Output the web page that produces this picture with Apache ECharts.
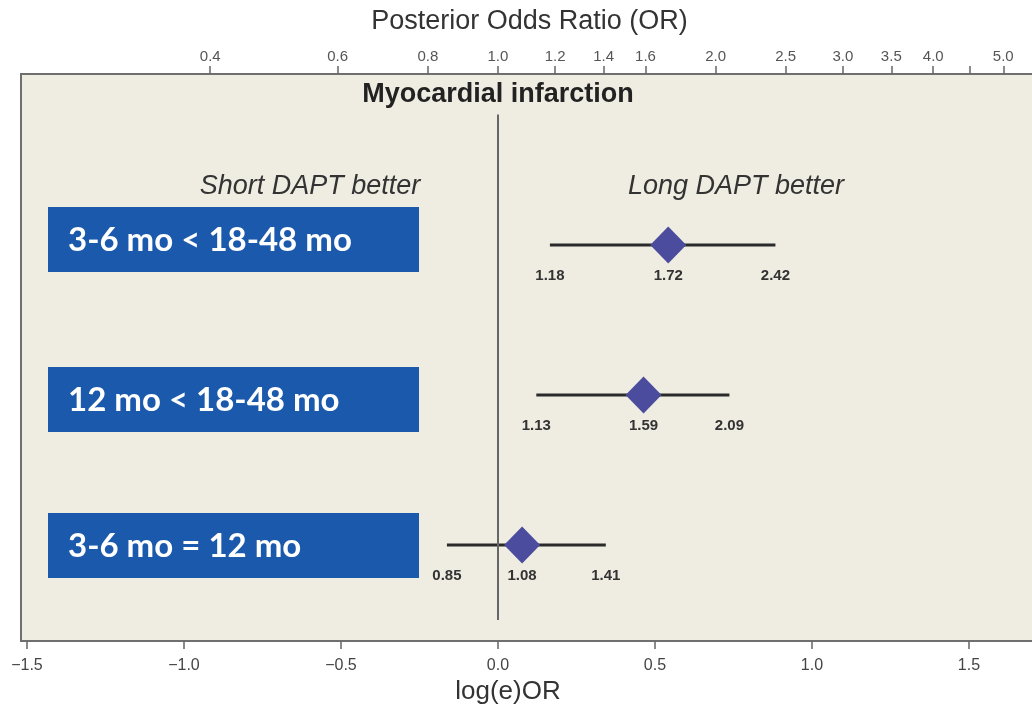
<!DOCTYPE html>
<html>
<head>
<meta charset="utf-8">
<script src="https://cdn.jsdelivr.net/npm/echarts@6/dist/echarts.min.js"></script>
<style>
  html, body { margin: 0; padding: 0; background: #fff; }
  #main { width: 1032px; height: 711px; }
</style>
</head>
<body>
<div id="main"></div>
<script>
// comparisons, top row first
const comparisons = ['3-6 mo < 18-48 mo', '12 mo < 18-48 mo', '3-6 mo = 12 mo'];
const rows = [3, 2, 1];
const orLow = [1.18, 1.13, 0.85];
const orMid = [1.72, 1.59, 1.08];
const orHigh = [2.42, 2.09, 1.41];

// top axis (odds ratio) ticks
const orTicks = [0.4, 0.6, 0.8, 1.0, 1.2, 1.4, 1.6, 2.0, 2.5, 3.0, 3.5, 4.0, 4.5, 5.0];
const orTickLabels = [0.4, 0.6, 0.8, 1.0, 1.2, 1.4, 1.6, 2.0, 2.5, 3.0, 3.5, 4.0, 5.0];
// bottom axis (log OR) ticks
const logTicks = [-1.5, -1.0, -0.5, 0, 0.5, 1.0, 1.5];

const ln = Math.log;
const font = 'Liberation Sans';

var myChart = echarts.init(document.getElementById('main'));

const ciData = rows.map((r, i) => [ln(orLow[i]), ln(orHigh[i]), r, ln(orMid[i])]);
const midData = rows.map((r, i) => [ln(orMid[i]), r]);

var option = {
  animation: false,
  backgroundColor: '#fff',
  grid: {
    // plot runs past the right edge of the picture, as in the original
    left: 21, width: 1017, top: 74, bottom: 70,
    outerBoundsMode: 'none',
    containLabel: false,
    show: true,
    backgroundColor: '#EFECE1',
    borderColor: '#6f6f6f',
    borderWidth: 2
  },
  xAxis: [{
    type: 'value',
    position: 'bottom',
    min: -1.519, max: 1.72,
    splitLine: { show: false },
    axisLine: { show: false },
    axisTick: { show: true, length: 8, lineStyle: { color: '#666', width: 1.5 },
      customValues: logTicks },
    axisLabel: {
      customValues: logTicks,
      color: '#444', fontFamily: font, fontSize: 16, margin: 17,
      formatter: v => v.toFixed(1).replace('-', '\u2212')
    }
  }, {
    type: 'value',
    position: 'top',
    min: -1.519, max: 1.72,
    splitLine: { show: false },
    axisLine: { show: false },
    axisTick: { show: true, length: 8, lineStyle: { color: '#666', width: 1.5 },
      customValues: orTicks.map(ln) },
    axisLabel: {
      customValues: orTickLabels.map(ln),
      color: '#555', fontFamily: font, fontSize: 15, margin: 10,
      formatter: v => Math.exp(v).toFixed(1)
    },
    name: 'Posterior Odds Ratio (OR)',
    nameLocation: 'middle',
    nameGap: 39,
    nameTextStyle: { color: '#333', fontFamily: font, fontSize: 27 }
  }],
  yAxis: {
    type: 'value',
    min: 0.36, max: 4.14,
    show: false
  },
  graphic: [
    { type: 'text', x: 498, y: 95,
      style: { text: 'Myocardial infarction', fontFamily: font, fontWeight: 'bold', fontSize: 27, fill: '#222',
        align: 'center', verticalAlign: 'middle' } },
    { type: 'text', x: 310, y: 186,
      style: { text: 'Short DAPT better', fontFamily: font, fontStyle: 'italic', fontSize: 27, fill: '#333',
        align: 'center', verticalAlign: 'middle' } },
    { type: 'text', x: 736, y: 186,
      style: { text: 'Long DAPT better', fontFamily: font, fontStyle: 'italic', fontSize: 27, fill: '#333',
        align: 'center', verticalAlign: 'middle' } },
    { type: 'text', x: 508, y: 692,
      style: { text: 'log(e)OR', fontFamily: font, fontSize: 26, fill: '#333',
        align: 'center', verticalAlign: 'middle' } }
  ],
  series: [{
    // vertical line of no effect
    type: 'line',
    data: [],
    markLine: {
      silent: true,
      symbol: 'none',
      label: { show: false },
      lineStyle: { color: '#666', width: 2, type: 'solid' },
      data: [[{ coord: [0, 0.5] }, { coord: [0, 3.87] }]]
    }
  }, {
    // comparison boxes
    type: 'custom',
    data: rows.map(r => [r]),
    encode: { y: 0 },
    renderItem: function (params, api) {
      const i = params.dataIndex;
      const p = api.coord([0, api.value(0)]);
      // boxes sit slightly off the interval rows in the original
      const shift = [-6, 4, 0][i];
      const yc = p[1] + shift;
      return {
        type: 'group',
        children: [{
          type: 'rect',
          shape: { x: 48, y: yc - 32, width: 371, height: 65 },
          style: { fill: '#1A59AB' }
        }, {
          type: 'text',
          style: {
            text: comparisons[i], x: 68, y: yc + 1,
            fill: '#fff', fontFamily: 'Lato', fontWeight: 'bold', fontSize: 33,
            verticalAlign: 'middle'
          }
        }]
      };
    },
    z: 3
  }, {
    // credible intervals with bound labels
    type: 'custom',
    data: ciData,
    encode: { x: [0, 1, 3], y: 2 },
    renderItem: function (params, api) {
      const i = params.dataIndex;
      const a = api.coord([api.value(0), api.value(2)]);
      const b = api.coord([api.value(1), api.value(2)]);
      const m = api.coord([api.value(3), api.value(2)]);
      const ts = { fontFamily: font, fontWeight: 'bold', fontSize: 15, fill: '#333', align: 'center', verticalAlign: 'middle' };
      return {
        type: 'group',
        children: [{
          type: 'line',
          shape: { x1: a[0], y1: a[1], x2: b[0], y2: b[1] },
          style: { stroke: '#2a2a2a', lineWidth: 3 }
        },
        { type: 'text', style: Object.assign({ text: orLow[i].toFixed(2), x: a[0], y: a[1] + 31 }, ts) },
        { type: 'text', style: Object.assign({ text: orMid[i].toFixed(2), x: m[0], y: m[1] + 31 }, ts) },
        { type: 'text', style: Object.assign({ text: orHigh[i].toFixed(2), x: b[0], y: b[1] + 31 }, ts) }]
      };
    },
    z: 4
  }, {
    // posterior median
    type: 'scatter',
    data: midData,
    symbol: 'diamond',
    symbolSize: [36, 37],
    itemStyle: { color: '#4B4C9E', opacity: 1 },
    z: 5
  }]
};

myChart.setOption(option);
</script>
</body>
</html>
